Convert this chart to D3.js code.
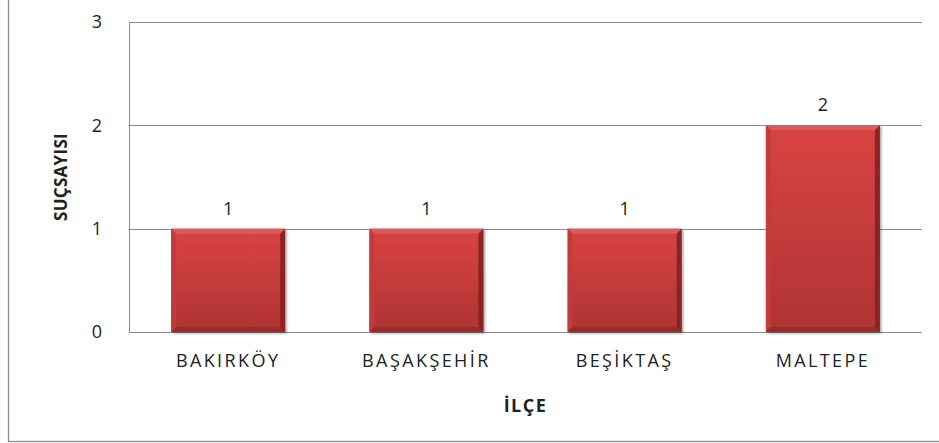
<!DOCTYPE html>
<html>
<head>
<meta charset="utf-8">
<script src="https://cdn.jsdelivr.net/npm/d3@7"></script>
<style>
  body { margin: 0; background: #fff; }
  svg { display: block; }
  text { font-family: "Open Sans", sans-serif; fill: #222; }
</style>
</head>
<body>
<svg id="chart" width="939" height="443"></svg>
<script>
// data
const districts = ['BAKIRKÖY', 'BAŞAKŞEHİR', 'BEŞİKTAŞ', 'MALTEPE'];
const crimeCounts = [1, 1, 1, 2];
const yTicks = [0, 1, 2, 3];

const svg = d3.select('#chart');
const margin = { top: 22, right: 17, bottom: 111, left: 129 };
const width = 939 - margin.left - margin.right;
const height = 443 - margin.top - margin.bottom;

// outer frame
svg.append('rect')
  .attr('x', 8.5).attr('y', -5)
  .attr('width', 940).attr('height', 446.5)
  .attr('fill', 'none')
  .attr('stroke', '#8c8c8c')
  .attr('stroke-width', 1.3);

const defs = svg.append('defs');
const grad = defs.append('linearGradient')
  .attr('id', 'barFill').attr('x1', 0).attr('y1', 0).attr('x2', 0).attr('y2', 1);
grad.append('stop').attr('offset', '0%').attr('stop-color', '#d94444');
grad.append('stop').attr('offset', '100%').attr('stop-color', '#b03333');

const shadow = defs.append('filter').attr('id', 'shadow')
  .attr('x', '-10%').attr('y', '-10%').attr('width', '130%').attr('height', '130%');
shadow.append('feDropShadow')
  .attr('dx', 1.5).attr('dy', 1.5).attr('stdDeviation', 1.2)
  .attr('flood-color', '#000').attr('flood-opacity', 0.35);

const g = svg.append('g').attr('transform', `translate(${margin.left},${margin.top})`);

const x = d3.scaleBand().domain(districts).range([0, width]).paddingInner(0.425).paddingOuter(0.2125);
const y = d3.scaleLinear().domain([0, 3]).range([height, 0]);

// gridlines
g.append('g')
  .selectAll('line')
  .data(yTicks)
  .join('line')
    .attr('x1', 0).attr('x2', width)
    .attr('y1', d => Math.round(y(d)) + 0.5).attr('y2', d => Math.round(y(d)) + 0.5)
    .attr('stroke', '#8a8a8a').attr('stroke-width', 1);

// left axis line
g.append('line')
  .attr('x1', 0.5).attr('x2', 0.5)
  .attr('y1', 0).attr('y2', height)
  .attr('stroke', '#8a8a8a');

// y axis labels
const yAxis = g.append('g')
  .call(d3.axisLeft(y).tickValues(yTicks).tickSize(0).tickPadding(26).tickFormat(d3.format('d')));
yAxis.select('.domain').remove();
yAxis.selectAll('text')
  .style('font-family', '"Open Sans", sans-serif')
  .style('font-size', '18px')
  .style('letter-spacing', '1px')
  .attr('fill', '#222');

// x axis labels
const xAxis = g.append('g')
  .attr('transform', `translate(0,${height})`)
  .call(d3.axisBottom(x).tickSize(0).tickPadding(22));
xAxis.select('.domain').remove();
xAxis.selectAll('text')
  .style('font-family', '"Open Sans", sans-serif')
  .style('font-size', '18px')
  .style('letter-spacing', '2.4px')
  .attr('fill', '#222');

// bars with bevel
const bev = 5;
const bars = g.append('g')
  .selectAll('g.bar')
  .data(districts.map((d, i) => ({ name: d, value: crimeCounts[i] })))
  .join('g')
    .attr('class', 'bar')
    .attr('filter', 'url(#shadow)');

bars.append('rect')
  .attr('x', d => x(d.name))
  .attr('y', d => y(d.value))
  .attr('width', x.bandwidth())
  .attr('height', d => y(0) - y(d.value))
  .attr('fill', 'url(#barFill)');

// top bevel
bars.append('polygon')
  .attr('points', d => {
    const x0 = x(d.name), x1 = x0 + x.bandwidth(), t = y(d.value);
    return [[x0, t], [x1, t], [x1 - bev, t + bev], [x0 + bev, t + bev]].join(' ');
  })
  .attr('fill', '#e05a5a');
// left bevel
bars.append('polygon')
  .attr('points', d => {
    const x0 = x(d.name), t = y(d.value), b = y(0);
    return [[x0, t], [x0 + bev, t + bev], [x0 + bev, b - bev], [x0, b]].join(' ');
  })
  .attr('fill', '#c23b3b').attr('opacity', 0.9);
// right bevel
bars.append('polygon')
  .attr('points', d => {
    const x1 = x(d.name) + x.bandwidth(), t = y(d.value), b = y(0);
    return [[x1, t], [x1 - bev, t + bev], [x1 - bev, b - bev], [x1, b]].join(' ');
  })
  .attr('fill', '#8e2424');
// bottom bevel
bars.append('polygon')
  .attr('points', d => {
    const x0 = x(d.name), x1 = x0 + x.bandwidth(), b = y(0);
    return [[x0, b], [x1, b], [x1 - bev, b - bev], [x0 + bev, b - bev]].join(' ');
  })
  .attr('fill', '#9a2a2a');

// value labels
g.append('g')
  .selectAll('text')
  .data(districts.map((d, i) => ({ name: d, value: crimeCounts[i] })))
  .join('text')
    .attr('x', d => x(d.name) + x.bandwidth() / 2)
    .attr('y', d => y(d.value) - 14)
    .attr('text-anchor', 'middle')
    .style('font-size', '18px')
    .text(d => d.value);

// axis titles
svg.append('text')
  .attr('x', margin.left + width / 2)
  .attr('y', 412)
  .attr('text-anchor', 'middle')
  .style('font-size', '18px')
  .style('font-weight', 'bold')
  .style('letter-spacing', '1.5px')
  .text('İLÇE');

svg.append('text')
  .attr('transform', `translate(67,${margin.top + height / 2}) rotate(-90)`)
  .attr('text-anchor', 'middle')
  .style('font-size', '17px')
  .style('font-weight', 'bold')
  .style('letter-spacing', '0.3px')
  .text('SUÇSAYISI');
</script>
</body>
</html>
